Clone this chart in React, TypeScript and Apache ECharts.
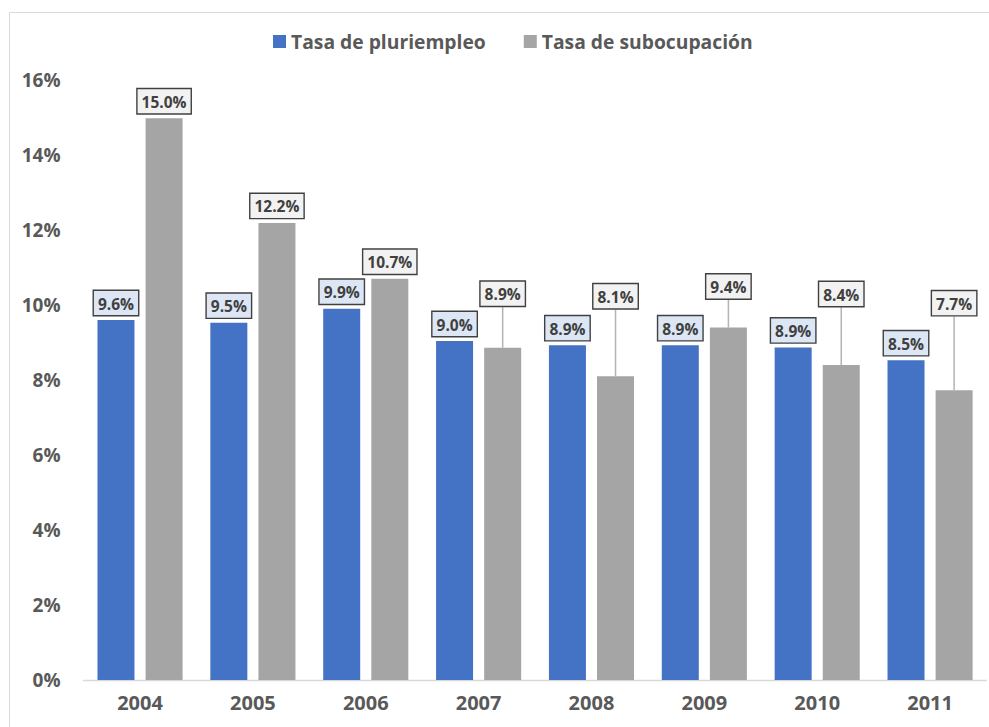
import React, { useEffect, useRef } from "react";
import * as echarts from "echarts";

const years = ["2004", "2005", "2006", "2007", "2008", "2009", "2010", "2011"];
const pluriempleo = [9.6, 9.53, 9.9, 9.04, 8.93, 8.93, 8.87, 8.53];
const subocupacion = [14.98, 12.19, 10.7, 8.86, 8.1, 9.4, 8.4, 7.73];
const yTicks = { min: 0, max: 16, interval: 2 };
// vertical label shifts (px) for the grey series, matching the reference
const subLabelShift = [0, 0, 0, -37, -63, -24, -54, -70];

const FONT = "'Open Sans', 'Noto Sans', sans-serif";

export default function App() {
  const ref = useRef<HTMLDivElement>(null);
  useEffect(() => {
    if (!ref.current) return;
    const chart = echarts.init(ref.current, undefined, { renderer: "svg" });
    const labelBase = {
      show: true,
      position: "top" as const,
      distance: 5,
      fontFamily: FONT,
      fontWeight: "bold" as const,
      fontSize: 15.5,
      lineHeight: 19,
      color: "#404040",
      borderColor: "#404040",
      borderWidth: 1.4,
      padding: [3, 4, 2, 4],
      formatter: (p: any) => Number(p.value).toFixed(1) + "%",
    };
    chart.setOption({
      animation: false,
      backgroundColor: "#ffffff",
      graphic: [
        {
          type: "rect",
          shape: { x: 9.5, y: 12.5, width: 1200, height: 1000 },
          style: { fill: "none", stroke: "#d9d9d9", lineWidth: 1 },
          silent: true,
          z: -10,
        },
      ],
      legend: {
        left: 268,
        top: 27,
        itemWidth: 13,
        itemHeight: 13,
        itemGap: 38,
        textStyle: {
          fontFamily: FONT,
          fontWeight: "bold",
          fontSize: 19.3,
          color: "#595959",
        },
        icon: "rect",
        data: ["Tasa de pluriempleo", "Tasa de subocupación"],
      },
      grid: { left: 83.6, right: 2.5, top: 80, bottom: 47, containLabel: false },
      xAxis: {
        type: "category",
        data: years,
        axisLine: { show: true, lineStyle: { color: "#d9d9d9", width: 1.3 } },
        axisTick: { show: false },
        axisLabel: {
          margin: 12,
          fontFamily: FONT,
          fontWeight: "bold",
          fontSize: 20,
          color: "#595959",
        },
      },
      yAxis: {
        type: "value",
        min: yTicks.min,
        max: yTicks.max,
        interval: yTicks.interval,
        axisLine: { show: false },
        axisTick: { show: false },
        splitLine: { show: false },
        axisLabel: {
          margin: 23,
          fontFamily: FONT,
          fontWeight: "bold",
          fontSize: 19,
          color: "#595959",
          formatter: "{value}%",
        },
      },
      series: [
        {
          name: "Tasa de pluriempleo",
          type: "bar",
          data: pluriempleo,
          barWidth: 37,
          barGap: "30%",
          itemStyle: { color: "#4472c4" },
          label: { ...labelBase, backgroundColor: "#dce6f4" },
        },
        {
          name: "Tasa de subocupación",
          type: "bar",
          data: subocupacion.map((v, i) => ({
            value: v,
            labelLine: { show: subLabelShift[i] !== 0 },
          })),
          barWidth: 37,
          barGap: "30%",
          itemStyle: { color: "#a5a5a5" },
          label: { ...labelBase, backgroundColor: "#f2f2f2" },
          labelLayout: (params: any) => ({ dy: subLabelShift[params.dataIndex] }),
          labelLine: { show: true, lineStyle: { color: "#b3b3b3", width: 1.5 } },
        },
      ],
    });
    return () => chart.dispose();
  }, []);
  return (
    <div
      ref={ref}
      style={{ position: "absolute", left: 0, top: 0, width: 989, height: 727 }}
    />
  );
}
